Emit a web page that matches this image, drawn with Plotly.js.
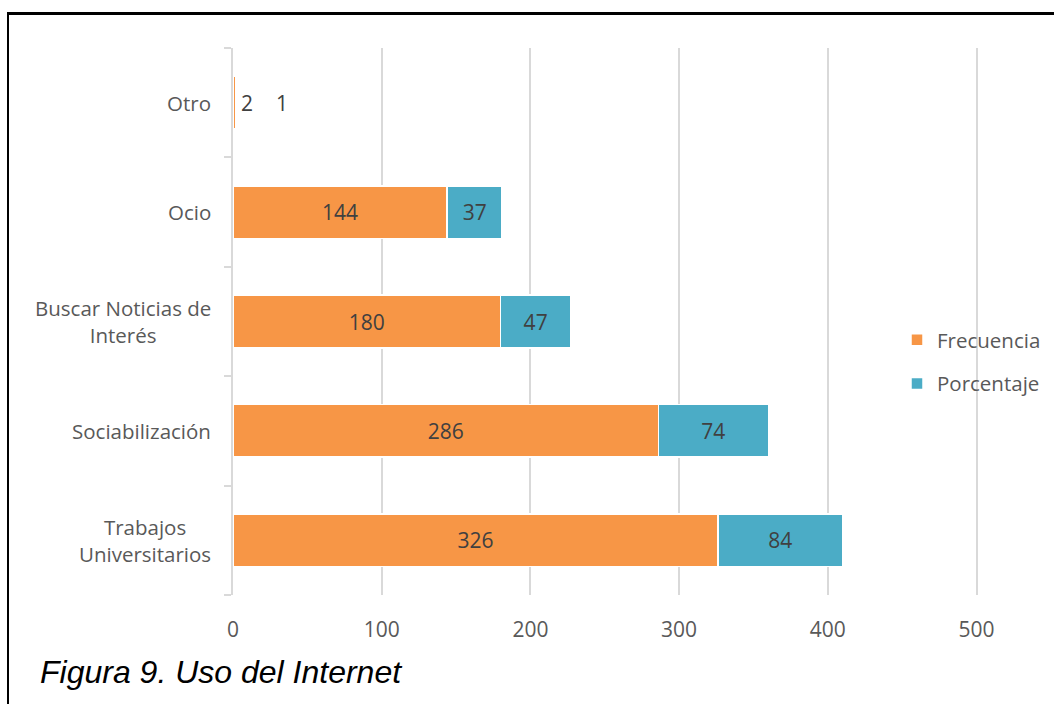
<!DOCTYPE html>
<html>
<head>
<meta charset="utf-8">
<script src="https://cdn.plot.ly/plotly-3.0.1.min.js"></script>
<style>
  html, body { margin: 0; padding: 0; background: #fff; }
  #chart { width: 1054px; height: 704px; }
  #frame { position: absolute; left: 7px; top: 12px; width: 1200px; height: 800px;
           border-left: 2px solid #000; border-top: 3px solid #000; pointer-events: none; }
</style>
</head>
<body>
<div id="chart"></div>
<div id="frame"></div>
<script>
// Data (bottom to top as drawn)
const categories = ["Trabajos<br>Universitarios", "Sociabilización", "Buscar Noticias de<br>Interés", "Ocio", "Otro"];
const frecuencia = [326, 286, 180, 144, 2];
const porcentaje = [84, 74, 47, 37, 1];
const xTicks = [0, 100, 200, 300, 400, 500];

const ORANGE = "#F79646";
const BLUE = "#4BACC6";
const LABEL_FONT = "Open Sans, Noto Sans, sans-serif";
const FS = 21;

function insideText(vals) {
  return vals.map(v => v >= 10 ? String(v) : "");
}

const traces = [
  {
    type: "bar", orientation: "h", name: "Frecuencia",
    y: categories, x: frecuencia,
    text: insideText(frecuencia), textposition: "inside", insidetextanchor: "middle",
    textfont: { family: LABEL_FONT, size: FS, color: "#404040" },
    marker: { color: ORANGE, line: { color: "#ffffff", width: 1.5 } },
    legendgroup: "a", hoverinfo: "x+y"
  },
  {
    type: "bar", orientation: "h", name: "Porcentaje",
    y: categories, x: porcentaje,
    text: insideText(porcentaje), textposition: "inside", insidetextanchor: "middle",
    textfont: { family: LABEL_FONT, size: FS, color: "#404040" },
    marker: { color: BLUE, line: { color: "#ffffff", width: 1.5 } },
    legendgroup: "b", hoverinfo: "x+y"
  }
];

const annotations = [];
// Category labels (centered multi-line)
categories.forEach(c => {
  annotations.push({
    xref: "paper", yref: "y", x: 0, y: c, xanchor: "right", yanchor: "middle",
    xshift: -20, text: c, showarrow: false, align: "center",
    font: { family: LABEL_FONT, size: 20.5, color: "#595959" }
  });
});
// Small values shown beside the bar
const smallIdx = frecuencia.map((v, i) => i).filter(i => frecuencia[i] < 10);
smallIdx.forEach(i => {
  annotations.push({
    xref: "x", yref: "y", x: 0, y: categories[i], xanchor: "center", yanchor: "middle",
    xshift: 14, text: String(frecuencia[i]), showarrow: false,
    font: { family: LABEL_FONT, size: FS, color: "#404040" }
  });
  annotations.push({
    xref: "x", yref: "y", x: 0, y: categories[i], xanchor: "center", yanchor: "middle",
    xshift: 49, text: String(porcentaje[i]), showarrow: false,
    font: { family: LABEL_FONT, size: FS, color: "#404040" }
  });
});

const layout = {
  width: 1054, height: 704,
  paper_bgcolor: "#ffffff", plot_bgcolor: "#ffffff",
  margin: { l: 233, r: 73, t: 48, b: 109, pad: 0, autoexpand: false },
  barmode: "stack", bargap: 0.52,
  title: {
    text: "<i>Figura 9. Uso del Internet</i>",
    font: { family: "Liberation Sans, Arial, sans-serif", size: 32, color: "#000000" },
    x: 40 / 1054, xanchor: "left", xref: "container",
    y: 1 - 672 / 704, yanchor: "middle", yref: "container"
  },
  xaxis: {
    range: [0, 503], tickvals: xTicks, ticktext: xTicks.map(String),
    showgrid: true, gridcolor: "#D9D9D9", gridwidth: 2,
    zeroline: false, showline: false, ticks: "",
    ticklabelstandoff: 20,
    tickfont: { family: LABEL_FONT, size: FS, color: "#595959" },
    fixedrange: true
  },
  yaxis: {
    type: "category", showticklabels: false,
    showgrid: false, zeroline: false,
    showline: true, linecolor: "#D9D9D9", linewidth: 2,
    ticks: "outside", tickson: "boundaries", ticklen: 7, tickwidth: 2, tickcolor: "#D9D9D9",
    fixedrange: true
  },
  showlegend: true,
  legend: {
    xref: "container", yref: "container",
    x: 897 / 1054, xanchor: "left", y: 1 - 362 / 704, yanchor: "middle",
    bgcolor: "rgba(0,0,0,0)", traceorder: "grouped", tracegroupgap: 14,
    font: { family: LABEL_FONT, size: 20.5, color: "#595959" },
    itemwidth: 30
  },
  annotations: annotations
};

Plotly.newPlot("chart", traces, layout, { displayModeBar: false, staticPlot: true });
</script>
</body>
</html>
